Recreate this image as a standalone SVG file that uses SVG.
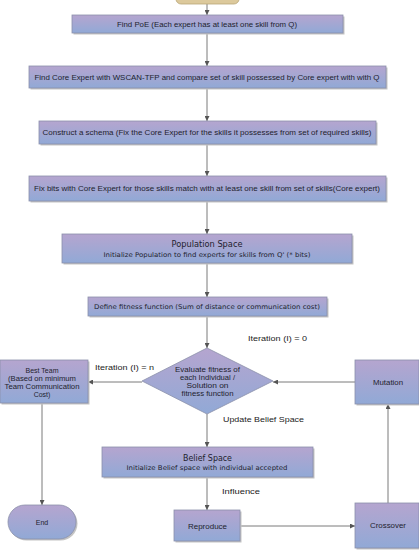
<svg xmlns="http://www.w3.org/2000/svg" width="419" height="550" viewBox="0 0 419 550">
<defs>
<linearGradient id="g" x1="0" y1="0" x2="0" y2="1">
<stop offset="0" stop-color="#b5a5cf"/>
<stop offset="1" stop-color="#91a9d6"/>
</linearGradient>
<marker id="arr" viewBox="0 0 6 6" refX="6" refY="3" markerWidth="5" markerHeight="5" orient="auto" markerUnits="userSpaceOnUse">
<path d="M0,0 L6,3 L0,6 Z" fill="#555"/>
</marker>
</defs>
<style>
.n{fill:url(#g);stroke:#8b90aa;stroke-width:0.8}
.sh{fill:#c4c4c4}
.t{font-family:"Liberation Sans",Arial,sans-serif;font-size:7px;fill:#1e1e2e;text-anchor:middle}
.h{font-family:"DejaVu Sans","Liberation Sans",sans-serif;font-size:8.5px;fill:#1e1e2e;text-anchor:middle}
.s{font-family:"DejaVu Sans","Liberation Sans",sans-serif;font-size:6.5px;fill:#1e1e2e;text-anchor:middle}
.l{font-family:"Liberation Sans",Arial,sans-serif;font-size:8px;fill:#222;text-anchor:start}
.c{stroke:#7a7a7a;stroke-width:1;fill:none;marker-end:url(#arr)}
</style>
<rect width="419" height="550" fill="#ffffff"/>

<g id="connectors">
<line class="c" x1="207" y1="4" x2="207" y2="15"/>
<line class="c" x1="207" y1="33" x2="207" y2="66"/>
<line class="c" x1="207" y1="88" x2="207" y2="121"/>
<line class="c" x1="207" y1="144" x2="207" y2="176"/>
<line class="c" x1="207" y1="201" x2="207" y2="234"/>
<line class="c" x1="207" y1="263" x2="207" y2="297"/>
<line class="c" x1="207" y1="316" x2="207" y2="348"/>
<line class="c" x1="142" y1="382" x2="88" y2="382"/>
<line class="c" x1="355" y1="382" x2="273" y2="382"/>
<line class="c" x1="207" y1="414" x2="207" y2="447"/>
<line class="c" x1="207" y1="477" x2="207" y2="510"/>
<line class="c" x1="42" y1="403" x2="42" y2="505"/>
<line class="c" x1="240" y1="526" x2="355" y2="526"/>
<line class="c" x1="388" y1="503" x2="388" y2="404"/>
<text class="l" x="248" y="341" textLength="59" lengthAdjust="spacingAndGlyphs">Iteration (I) = 0</text>
<text class="l" x="95" y="370" textLength="59" lengthAdjust="spacingAndGlyphs">Iteration (I) = n</text>
<text class="l" x="223" y="422" textLength="81" lengthAdjust="spacingAndGlyphs">Update Belief Space</text>
<text class="l" x="222" y="494" textLength="38" lengthAdjust="spacingAndGlyphs">Influence</text>
</g>

<g id="start">
<rect x="176" y="-12" width="63" height="16" rx="5" fill="#dcc99c" stroke="#b9a677" stroke-width="0.8"/>
</g>

<g id="findPoE">
<rect class="sh" x="73.5" y="16.5" width="271" height="18"/>
<rect class="n" x="72" y="15" width="271" height="18"/>
<text class="t" x="207" y="26.5" textLength="180" lengthAdjust="spacingAndGlyphs">Find PoE (Each expert has at least one skill from Q)</text>
</g>

<g id="findCore">
<rect class="sh" x="30.5" y="67.5" width="357" height="22"/>
<rect class="n" x="29" y="66" width="357" height="22"/>
<text class="t" x="207" y="79.5" textLength="345" lengthAdjust="spacingAndGlyphs">Find Core Expert with WSCAN-TFP and compare set of skill possessed by Core expert with  with Q</text>
</g>

<g id="schema">
<rect class="sh" x="40.5" y="122.5" width="337" height="23"/>
<rect class="n" x="39" y="121" width="337" height="23"/>
<text class="t" x="207" y="135" textLength="329" lengthAdjust="spacingAndGlyphs">Construct a schema (Fix the Core Expert for the skills it possesses from set of required skills)</text>
</g>

<g id="fixBits">
<rect class="sh" x="30.5" y="177.5" width="357" height="25"/>
<rect class="n" x="29" y="176" width="357" height="25"/>
<text class="t" x="207" y="191" textLength="346" lengthAdjust="spacingAndGlyphs">Fix bits with Core Expert for those skills match with at least one skill from set of skills(Core expert)</text>
</g>

<g id="population">
<rect class="sh" x="63.5" y="235.5" width="290" height="29"/>
<rect class="n" x="62" y="234" width="290" height="29"/>
<text class="h" x="207" y="247" textLength="71" lengthAdjust="spacingAndGlyphs">Population Space</text>
<text class="s" x="207" y="256.5" textLength="207" lengthAdjust="spacingAndGlyphs">Initialize Population to find experts for skills from Q' (* bits)</text>
</g>

<g id="fitness">
<rect class="sh" x="89.5" y="298.5" width="239" height="19"/>
<rect class="n" x="88" y="297" width="239" height="19"/>
<text class="s" x="207" y="309" textLength="226" lengthAdjust="spacingAndGlyphs">Define fitness function (Sum of distance or communication cost)</text>
</g>

<g id="evaluate">
<polygon points="207,348 273,381 207,414 142,381" fill="url(#g)" stroke="#8b90aa" stroke-width="0.8"/>
<text class="t" x="207.5" y="371.5" textLength="65" lengthAdjust="spacingAndGlyphs">Evaluate fitness of</text>
<text class="t" x="207.5" y="380" textLength="55" lengthAdjust="spacingAndGlyphs">each Individual /</text>
<text class="t" x="207.5" y="388" textLength="42" lengthAdjust="spacingAndGlyphs">Solution on</text>
<text class="t" x="207.5" y="396" textLength="52" lengthAdjust="spacingAndGlyphs">fitness function</text>
</g>

<g id="bestTeam">
<rect class="sh" x="1.5" y="361.5" width="88" height="43"/>
<rect class="n" x="0" y="360" width="88" height="43"/>
<text class="t" x="42" y="372.5">Best Team</text>
<text class="t" x="42" y="380.5" textLength="68" lengthAdjust="spacingAndGlyphs">(Based on minimum</text>
<text class="t" x="42" y="388.5" textLength="75" lengthAdjust="spacingAndGlyphs">Team Communication</text>
<text class="t" x="42" y="396.5">Cost)</text>
</g>

<g id="mutation">
<rect class="sh" x="356.5" y="361.5" width="64" height="44"/>
<rect class="n" x="355" y="360" width="64" height="44"/>
<text class="t" x="388" y="384.5" textLength="30" lengthAdjust="spacingAndGlyphs">Mutation</text>
</g>

<g id="belief">
<rect class="sh" x="103.5" y="448.5" width="211" height="30"/>
<rect class="n" x="102" y="447" width="211" height="30"/>
<text class="h" x="207.5" y="461" textLength="49" lengthAdjust="spacingAndGlyphs">Belief Space</text>
<text class="s" x="207" y="470" textLength="161" lengthAdjust="spacingAndGlyphs">Initialize Belief space with individual accepted</text>
</g>

<g id="end">
<rect class="sh" x="9.5" y="506.5" width="68" height="34" rx="17"/>
<rect class="n" x="8" y="505" width="68" height="34" rx="17"/>
<text class="t" x="42" y="524.5" font-size="6">End</text>
</g>

<g id="reproduce">
<rect class="sh" x="175.5" y="511.5" width="66" height="31"/>
<rect class="n" x="174" y="510" width="66" height="31"/>
<text class="t" x="207.5" y="529" textLength="39" lengthAdjust="spacingAndGlyphs">Reproduce</text>
</g>

<g id="crossover">
<rect class="sh" x="356.5" y="504.5" width="64" height="45"/>
<rect class="n" x="355" y="503" width="64" height="45"/>
<text class="t" x="388" y="527.5" textLength="36" lengthAdjust="spacingAndGlyphs">Crossover</text>
</g>
</svg>
